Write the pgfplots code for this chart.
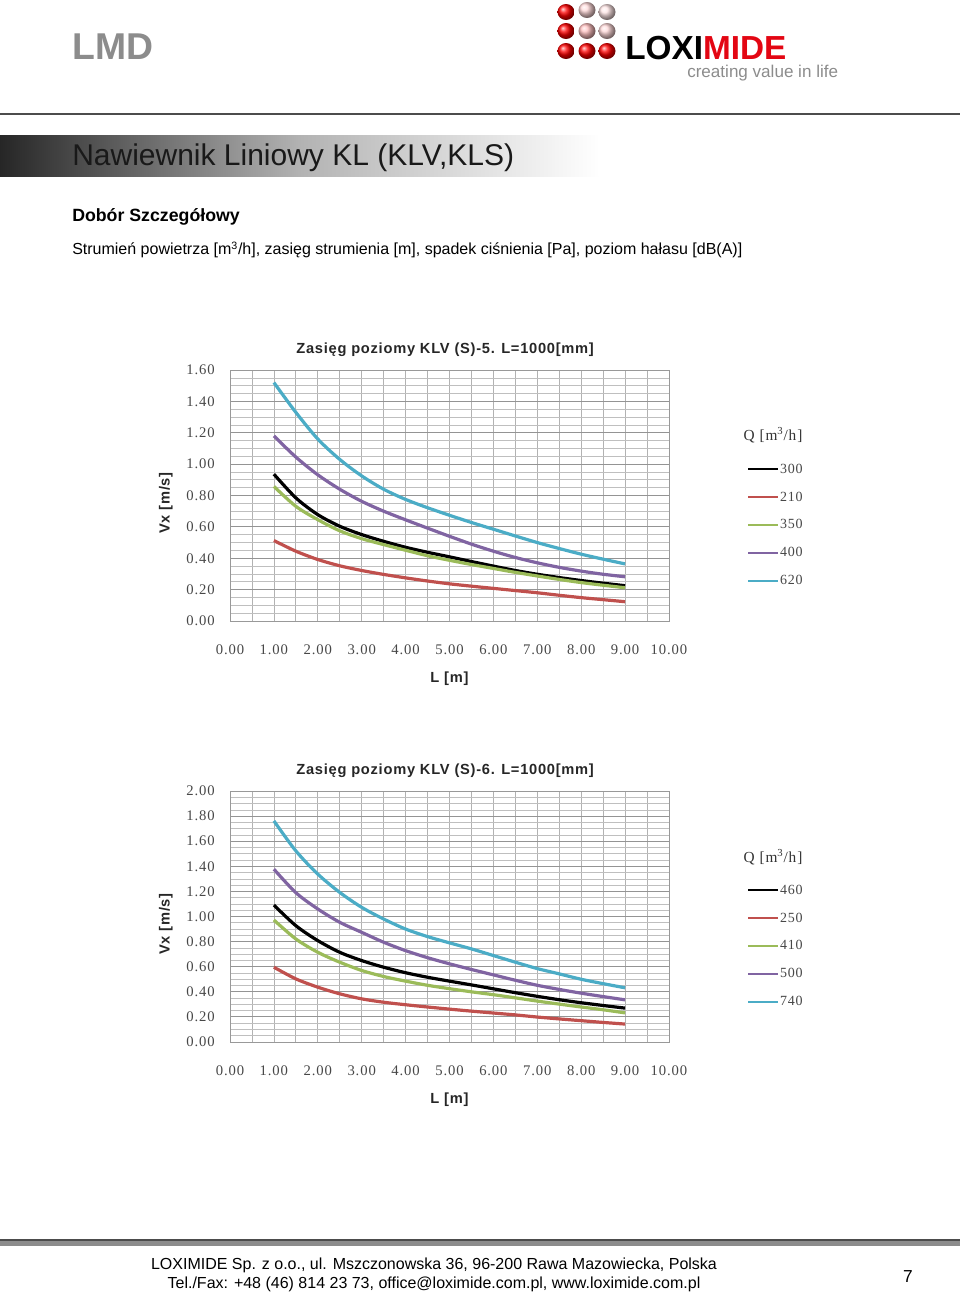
\documentclass[border=0pt]{standalone}
\usepackage{fontspec}
\setmainfont{Liberation Sans}
\newfontfamily\seriffont[LetterSpace=6]{Liberation Serif}
\newfontfamily\titlefont[LetterSpace=5]{Liberation Sans}
\usepackage{pgfplots}
\usepackage{pgfplotstable}
\pgfplotsset{compat=1.18}

\definecolor{xred}{HTML}{C0504D}
\definecolor{xgreen}{HTML}{9BBB59}
\definecolor{xpurple}{HTML}{8064A2}
\definecolor{xcyan}{HTML}{4BACC6}
\definecolor{logored}{HTML}{E30613}

% Chart 1: KLV (S)-5  (columns: Q=300, 210, 350, 400, 620)
\pgfplotstableread{
x    q300  q210  q350  q400  q620
1.0  0.936 0.513 0.858 1.180 1.520
1.5  0.785 0.445 0.731 1.045 1.330
2.0  0.678 0.392 0.646 0.932 1.160
2.5  0.604 0.352 0.575 0.840 1.030
3.0  0.551 0.322 0.525 0.763 0.925
3.5  0.508 0.297 0.487 0.700 0.840
4.0  0.470 0.275 0.451 0.645 0.775
4.5  0.438 0.255 0.416 0.592 0.722
5.0  0.409 0.237 0.387 0.540 0.674
5.5  0.379 0.222 0.360 0.490 0.628
6.0  0.350 0.208 0.335 0.445 0.585
6.5  0.322 0.194 0.310 0.405 0.542
7.0  0.298 0.180 0.287 0.371 0.500
7.5  0.277 0.164 0.265 0.342 0.462
8.0  0.258 0.149 0.245 0.318 0.426
8.5  0.241 0.136 0.228 0.298 0.394
9.0  0.225 0.123 0.212 0.282 0.364
}\tabA

% Chart 2: KLV (S)-6  (columns: Q=460, 250, 410, 500, 740)
\pgfplotstableread{
x    q460  q250  q410  q500  q740
1.0  1.091 0.596 0.972 1.377 1.762
1.5  0.927 0.503 0.821 1.190 1.523
2.0  0.808 0.437 0.715 1.060 1.338
2.5  0.715 0.384 0.636 0.954 1.192
3.0  0.649 0.344 0.570 0.874 1.073
3.5  0.596 0.317 0.522 0.795 0.980
4.0  0.552 0.297 0.485 0.728 0.900
4.5  0.516 0.279 0.452 0.672 0.840
5.0  0.485 0.262 0.425 0.623 0.790
5.5  0.455 0.246 0.400 0.578 0.742
6.0  0.424 0.231 0.377 0.535 0.689
6.5  0.393 0.216 0.352 0.492 0.636
7.0  0.364 0.199 0.326 0.452 0.585
7.5  0.337 0.184 0.302 0.419 0.543
8.0  0.313 0.170 0.279 0.389 0.500
8.5  0.291 0.156 0.257 0.362 0.465
9.0  0.270 0.143 0.232 0.336 0.432
}\tabB

\pgfplotsset{
  chartstyle/.style={
    scale only axis,
    width=329.25pt, height=188.25pt,
    anchor=south west,
    clip=false,
    xmin=0, xmax=10,
    xtick={0,1,2,3,4,5,6,7,8,9,10},
    minor x tick num=1,
    minor y tick num=3,
    grid=both,
    major x grid style={color=black!30, line width=0.6pt},
    minor x grid style={color=black!30, line width=0.6pt},
    major y grid style={color=black!42, line width=0.7pt},
    minor y grid style={color=black!25, line width=0.5pt},
    axis line style={color=black!40, line width=0.7pt},
    major tick length=0pt, minor tick length=0pt,
    /pgf/number format/fixed,
    /pgf/number format/fixed zerofill,
    /pgf/number format/precision=2,
    /pgf/number format/assume math mode=true,
    tick label style={font=\seriffont\fontsize{11}{13}\selectfont, text=black!72},
    xticklabel style={yshift=-14pt},
    yticklabel style={xshift=-8pt},
    title style={at={(axis description cs:0.49,1.05)}, anchor=center,
      font=\titlefont\bfseries\fontsize{11}{13}\selectfont, text=black!85},
    every axis x label/.style={at={(axis description cs:0.5,-0.23)}, anchor=center,
      font=\titlefont\bfseries\fontsize{11}{13}\selectfont, text=black!85},
    every axis y label/.style={at={(axis description cs:-0.146,0.47)}, anchor=center, rotate=90,
      font=\titlefont\bfseries\fontsize{11}{13}\selectfont, text=black!85},
    xlabel={L [m]},
    ylabel={Vx [m/s]},
    legend image code/.code={\draw[#1, line width=1.5pt] (0pt,0pt) -- (22pt,0pt);},
    legend style={draw=none, fill=none, inner sep=0pt,
      at={(axis description cs:1.178,0.633)}, anchor=north west,
      font=\seriffont\fontsize{10.5}{12}\selectfont, text=black!72,
      nodes={inner sep=1pt}, row sep=10.5pt},
    legend cell align=left,
    every axis plot/.append style={line width=2.4pt, smooth},
  }
}

\begin{document}
\begin{tikzpicture}
\begin{scope}[x=0.75pt, y=-0.75pt]
  \path[use as bounding box] (0,0) rectangle (960,1292);
  % header
  \node[anchor=west, inner sep=0pt, font=\bfseries\fontsize{28}{30}\selectfont, text=black!45] at (72,47) {LMD};
  % logo balls
  \foreach \cx/\cy/\c in {566/12/red, 587/10/red!15, 607/12/red!10,
                          566/31/red, 587/31/red!25, 607/31/red!15,
                          566/51/red, 587/51/red, 607/51/red}{
    \shade[ball color=\c] (\cx,\cy) ellipse (8.5 and 8);
  }
  \node[anchor=base west, inner sep=0pt, font=\bfseries\fontsize{25}{27}\selectfont] at (625,59) {LOXI\textcolor{logored}{MIDE}};
  \node[anchor=base west, inner sep=0pt, font=\fontsize{12.8}{14}\selectfont, text=black!45] at (687,77) {creating value in life};
  \draw[black!70, line width=1.3] (0,114) -- (960,114);
  % banner
  \shade[left color=black!85, right color=white, middle color=black!30] (0,135) rectangle (600,176);
  \fill[white] (598,135) rectangle (602,176);
  \node[anchor=west, inner sep=0pt, font=\fontsize{22.5}{24}\selectfont, text=black!90] at (72,158) {Nawiewnik Liniowy KL (KLV,KLS)};
  \node[anchor=west, inner sep=0pt, font=\bfseries\fontsize{13.3}{15}\selectfont] at (72,217) {Dobór Szczegółowy};
  \node[anchor=west, inner sep=0pt, font=\fontsize{12}{14}\selectfont] at (72,250) {Strumień powietrza [m\textsuperscript{3}/h], zasięg strumienia [m], spadek ciśnienia [Pa], poziom hałasu [dB(A)]};
  % footer
  \fill[black!45] (0,1240) rectangle (960,1246);
  \draw[black!70, line width=1] (0,1240) -- (960,1240);
  \node[anchor=center, inner sep=0pt, font=\fontsize{12}{14}\selectfont] at (434,1265) {LOXIMIDE Sp. z o.o., ul. Mszczonowska 36, 96-200 Rawa Mazowiecka, Polska};
  \node[anchor=center, inner sep=0pt, font=\fontsize{12}{14}\selectfont] at (434,1284) {Tel./Fax: +48 (46) 814 23 73, office@loximide.com.pl, www.loximide.com.pl};
  \node[anchor=center, inner sep=0pt, font=\fontsize{13}{15}\selectfont] at (908,1277) {7};
\end{scope}

% Chart 1
\begin{axis}[chartstyle, at={(172.5pt,-465.75pt)},
  ymin=0, ymax=1.6, ytick={0,0.2,0.4,0.6,0.8,1.0,1.2,1.4,1.6},
  title={Zasięg poziomy KLV (S)-5. L=1000[mm]}]
  \addplot[black]   table[x=x, y=q300] {\tabA}; \addlegendentry{300}
  \addplot[xred]    table[x=x, y=q210] {\tabA}; \addlegendentry{210}
  \addplot[xgreen]  table[x=x, y=q350] {\tabA}; \addlegendentry{350}
  \addplot[xpurple] table[x=x, y=q400] {\tabA}; \addlegendentry{400}
  \addplot[xcyan]   table[x=x, y=q620] {\tabA}; \addlegendentry{620}
  \node[anchor=center, font=\seriffont\fontsize{11.5}{13}\selectfont, text=black!80] at (axis description cs:1.237,0.741) {Q [m\textsuperscript{3}/h]};
\end{axis}

% Chart 2
\begin{axis}[chartstyle, at={(172.5pt,-781.5pt)},
  ymin=0, ymax=2.0, ytick={0,0.2,0.4,0.6,0.8,1.0,1.2,1.4,1.6,1.8,2.0},
  title={Zasięg poziomy KLV (S)-6. L=1000[mm]}]
  \addplot[black]   table[x=x, y=q460] {\tabB}; \addlegendentry{460}
  \addplot[xred]    table[x=x, y=q250] {\tabB}; \addlegendentry{250}
  \addplot[xgreen]  table[x=x, y=q410] {\tabB}; \addlegendentry{410}
  \addplot[xpurple] table[x=x, y=q500] {\tabB}; \addlegendentry{500}
  \addplot[xcyan]   table[x=x, y=q740] {\tabB}; \addlegendentry{740}
  \node[anchor=center, font=\seriffont\fontsize{11.5}{13}\selectfont, text=black!80] at (axis description cs:1.237,0.737) {Q [m\textsuperscript{3}/h]};
\end{axis}
\end{tikzpicture}
\end{document}
